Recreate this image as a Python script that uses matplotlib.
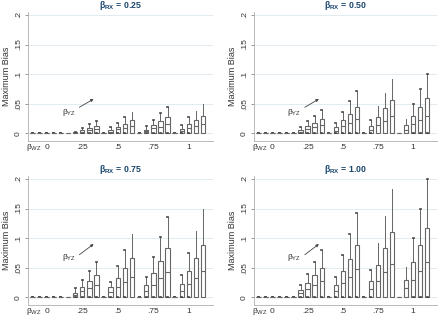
import matplotlib
matplotlib.use("Agg")
import matplotlib.pyplot as plt

plt.rcParams['font.family'] = ['Liberation Sans', 'DejaVu Sans']
plt.rcParams['mathtext.fontset'] = 'custom'
plt.rcParams['mathtext.rm'] = 'Liberation Sans'
plt.rcParams['mathtext.it'] = 'Liberation Sans:italic'
plt.rcParams['mathtext.bf'] = 'Liberation Sans:bold'

# ---- data (groups: beta_WZ = 0,.25,.5,.75,1; within group beta_YZ = 0,.25,.5,.75,1)
group_labels = ["0", ".25", ".5", ".75", "1"]
ytick_vals = [0, 0.05, 0.1, 0.15, 0.2]
ytick_labels = ["0", ".05", ".1", ".15", ".2"]
panel_titles = ["0.25", "0.50", "0.75", "1.00"]

p1_med = [0]*5 + [0, .001, .003, .0056, .008] + [0, .003, .007, .0095, .013] + [0, .004, .0085, .011, .0155] + [0, .0045, .0085, .012, .016]
p1_q3  = [0]*5 + [0, .0015, .005, .0085, .012] + [0, .0056, .011, .016, .022] + [0, .006, .014, .0215, .028] + [0, .0073, .015, .0225, .030]
p1_whi = [0]*5 + [0, .003, .0095, .015, .020] + [0, .010, .018, .027, .036] + [0, .012, .023, .034, .045] + [0, .0135, .027, .038, .050]

p2_med = [0]*5 + [0, .003, .007, .010, .014] + [0, .0045, .012, .017, .024] + [0, .0056, .014, .020, .029] + [0, .006, .015, .022, .029]
p2_q3  = [0]*5 + [0, .0056, .012, .018, .025] + [0, .011, .0225, .033, .044] + [0, .013, .0275, .042, .056] + [0, .014, .029, .044, .059]
p2_whi = [0]*5 + [0, .010, .020, .030, .040] + [0, .018, .036, .054, .072] + [0, .023, .046, .068, .091] + [0, .025, .050, .075, .100]

p3_med = [0]*5 + [0, .0045, .011, .015, .020] + [0, .009, .017, .026, .035] + [0, .011, .020, .032, .042] + [0, .011, .022, .033, .044]
p3_q3  = [0]*5 + [0, .008, .018, .028, .037] + [0, .017, .033, .050, .066] + [0, .021, .041, .062, .083] + [0, .022, .044, .066, .088]
p3_whi = [0]*5 + [0, .015, .029, .045, .060] + [0, .026, .053, .080, .107] + [0, .034, .068, .102, .136] + [0, .038, .075, .112, .150]

p4_med = [0]*5 + [0, .007, .0135, .020, .027] + [0, .011, .024, .035, .047] + [0, .014, .028, .042, .056] + [0, .015, .030, .044, .059]
p4_q3  = [0]*5 + [0, .012, .024, .037, .049] + [0, .021, .044, .065, .088] + [0, .027, .055, .083, .111] + [0, .029, .059, .088, .117]
p4_whi = [0]*5 + [0, .020, .040, .060, .080] + [0, .035, .071, .107, .143] + [0, .046, .091, .137, .183] + [0, .051, .100, .150, .200]

panels = [(p1_med, p1_q3, p1_whi), (p2_med, p2_q3, p2_whi),
          (p3_med, p3_q3, p3_whi), (p4_med, p4_q3, p4_whi)]

W, H = 440, 317
fig = plt.figure(figsize=(W/100, H/100), dpi=100)
fig.patch.set_facecolor('white')

# pixel boxes: (left, top, right, bottom)
boxes_px = [(28, 12, 213, 141), (254, 12, 437, 141),
            (28, 176, 213, 305), (254, 176, 437, 305)]

title_col = '#1a476f'
grid_col = '#dce8ee'
edge_col = '#666666'
text_col = '#333333'
fs = 6

for k, (med, q3, whi) in enumerate(panels):
    l, t, r, b = boxes_px[k]
    ax = fig.add_axes([l/W, 1 - b/H, (r-l)/W, (b-t)/H])
    stats = []
    for i in range(len(med)):
        stats.append(dict(med=med[i], q1=0.0, q3=q3[i], whislo=0.0, whishi=whi[i], fliers=[]))
    pos = list(range(len(med)))
    ax.bxp(stats, positions=pos, widths=0.62, showfliers=False, patch_artist=True,
           capwidths=0.12,
           boxprops=dict(facecolor='white', edgecolor=edge_col, linewidth=0.8),
           medianprops=dict(color=edge_col, linewidth=0.8),
           whiskerprops=dict(color=edge_col, linewidth=0.7),
           capprops=dict(color='#444444', linewidth=1.2))
    ax.set_xlim(-0.63, 25.4)
    ax.set_ylim(-0.013, 0.205)
    ax.set_yticks(ytick_vals)
    ax.set_yticklabels(ytick_labels, rotation=90, va='center', fontsize=fs, color=text_col)
    ax.set_xticks([2, 7, 12, 17, 22])
    ax.set_xticklabels(group_labels, fontsize=fs, color=text_col)
    ax.tick_params(axis='x', length=0, pad=2.5)
    ax.tick_params(axis='y', length=2.5, width=0.6, color='#888888', pad=2)
    for yv in ytick_vals:
        ax.axhline(yv, color=grid_col, linewidth=0.6, zorder=0)
    for s in ['top', 'right']:
        ax.spines[s].set_visible(False)
    ax.spines['left'].set_color('#b0b0b0')
    ax.spines['bottom'].set_color('#b0b0b0')
    ax.spines['left'].set_linewidth(0.6)
    ax.spines['bottom'].set_linewidth(0.6)
    ax.set_ylabel("Maximum Bias", fontsize=fs + 0.5, color=text_col, labelpad=3)
    ax.set_title("β$_{\\mathbf{RX}}$ = " + panel_titles[k], fontsize=fs + 0.3, fontweight='bold',
                 color=title_col, pad=1.5)
    # beta_WZ label on the tick-label row
    ax.text(0.2, -0.048, "β$_{\\mathrm{WZ}}$", transform=ax.get_xaxis_transform(),
            fontsize=fs, color=text_col, ha='center', va='center')
    # beta_YZ annotation with arrow
    if k < 2:
        ty, a0, a1 = 0.036, 0.044, 0.058
    else:
        ty, a0, a1 = 0.068, 0.072, 0.090
    ax.text(5.1, ty, "β$_{\\mathrm{YZ}}$", fontsize=fs, color=text_col, ha='center', va='center')
    ax.annotate("", xy=(8.6, a1), xytext=(6.6, a0),
                arrowprops=dict(arrowstyle='-|>', color='#444444', lw=0.6,
                                mutation_scale=4, shrinkA=0, shrinkB=0))

fig.savefig("out.png", dpi=100, facecolor='white')
